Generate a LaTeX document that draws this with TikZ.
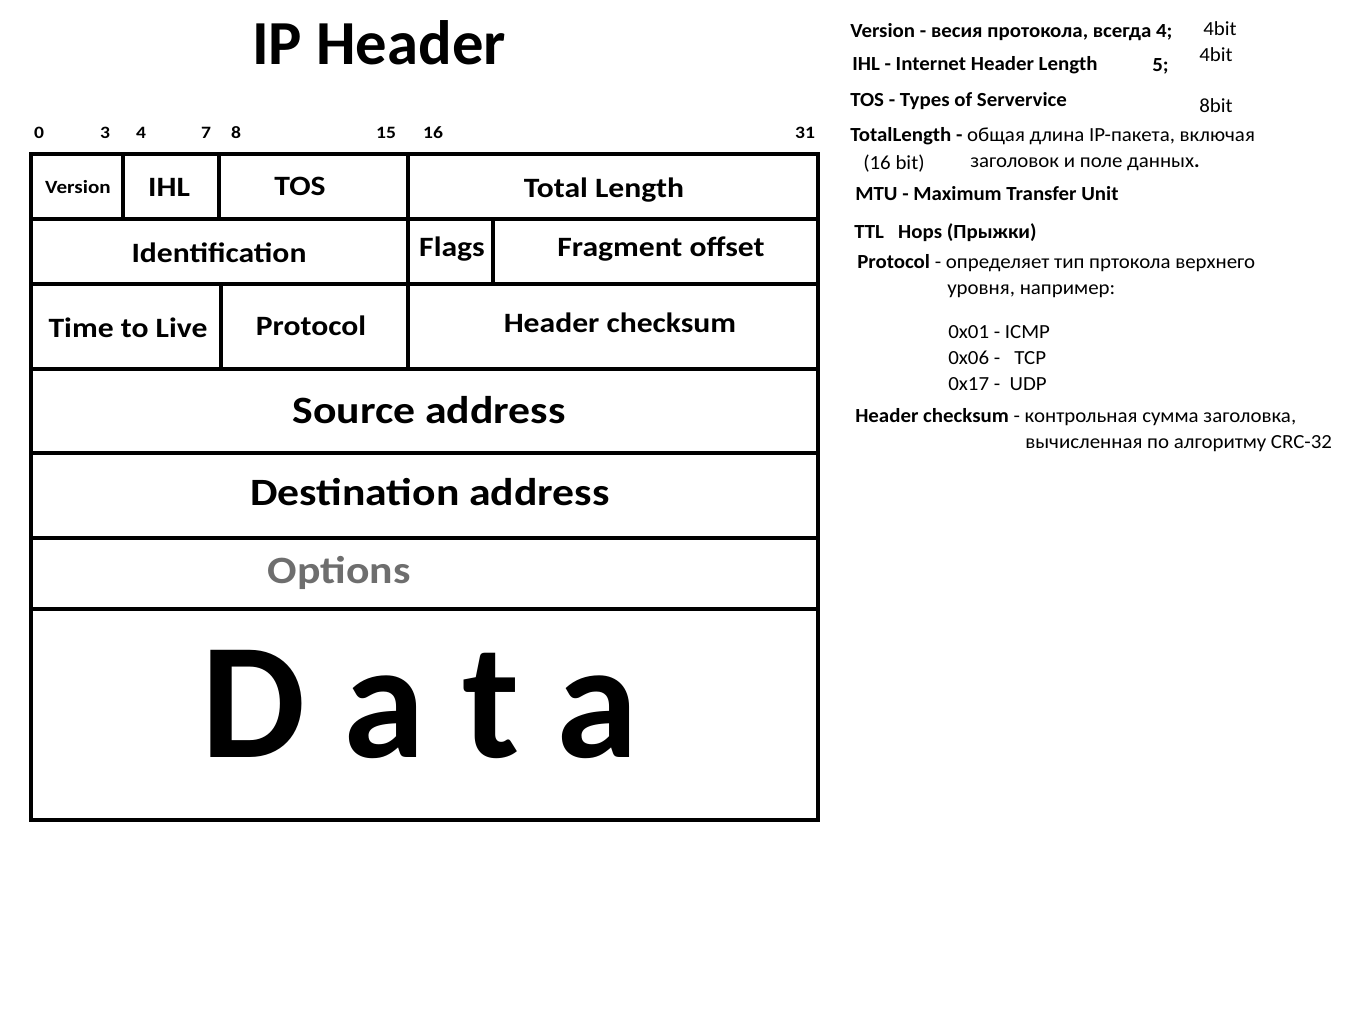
\documentclass[tikz,border=0pt]{standalone}
\usepackage{fontspec}
\setmainfont{Carlito}
\newfontfamily\fA[FakeStretch=1.13]{Carlito}
\newfontfamily\fN[FakeStretch=1.045]{Carlito}
\begin{document}
\begin{tikzpicture}[x=0.75pt,y=-0.75pt,
  cell/.style={line width=3pt},
  lab/.style={inner sep=0pt,anchor=base,font=\fA\bfseries\fontsize{21}{25}\selectfont},
  big/.style={inner sep=0pt,anchor=base,font=\fA\bfseries\fontsize{29}{34}\selectfont},
  bitn/.style={inner sep=0pt,anchor=base,font=\fA\bfseries\fontsize{13}{16}\selectfont},
  note/.style={inner sep=0pt,anchor=base west,font=\fN\fontsize{15}{18}\selectfont}]
\useasboundingbox (0,0) rectangle (1350,1034);
\fill[white] (0,0) rectangle (1350,1034);
% title
\node[inner sep=0pt,anchor=base] (title) at (379,65) {\bfseries\fontsize{47}{56}\selectfont IP Header};
% bit numbers
\node[bitn] (b0) at (39,139) {0};
\node[bitn] (b3) at (105,139) {3};
\node[bitn] (b4) at (141,139) {4};
\node[bitn] (b7) at (206,139) {7};
\node[bitn] (b8) at (236,139) {8};
\node[bitn] (b15) at (386,139) {15};
\node[bitn] (b16) at (433,139) {16};
\node[bitn] (b31) at (805,139) {31};
% table grid
\draw[cell] (31,154) rectangle (818,820);
\foreach \yy in {219,284,369,453,538,609} \draw[cell] (31,\yy) -- (818,\yy);
\draw[cell] (123,154) -- (123,219);
\draw[cell] (219,154) -- (219,219);
\draw[cell] (408,154) -- (408,284);
\draw[cell] (493,219) -- (493,284);
\draw[cell] (221,284) -- (221,369);
\draw[cell] (408,284) -- (408,369);
% labels
\node[inner sep=0pt,anchor=base,font=\fA\bfseries\fontsize{14}{17}\selectfont] (ver) at (78,194) {Version};
\node[lab] (ihl) at (169,197) {IHL};
\node[lab] (tos) at (300,196) {TOS};
\node[lab] (tl) at (604,198) {Total Length};
\node[lab] (ident) at (219,263) {Identification};
\node[lab] (flags) at (452,257) {Flags};
\node[lab] (frag) at (661,257) {Fragment offset};
\node[lab] (ttl) at (128,338) {Time to Live};
\node[lab] (proto) at (311,335) {Protocol};
\node[lab] (hcs) at (620,333) {Header checksum};
\node[big] (src) at (429,423) {Source address};
\node[big] (dst) at (430,505) {Destination address};
\node[big,text=black!57] (opt) at (339,583) {Options};
\node[inner sep=0pt,anchor=base,font=\bfseries\fontsize{124}{140}\selectfont] (data) at (420,757) {D a t a};
% notes
\node[note] (n1) at (850,38) {\bfseries Version - весия протокола, всегда 4;};
\node[note] (n1b) at (1203,36) {4bit};
\node[note] (n2) at (852,71) {\bfseries IHL - Internet Header Length};
\node[note] (n2a) at (1152,72) {\bfseries 5;};
\node[note] (n2b) at (1199,62) {4bit};
\node[note] (n3) at (850,107) {\bfseries TOS - Types of Serverviсe};
\node[note] (n3b) at (1199,113) {8bit};
\node[note] (n4) at (850,142) {\textbf{TotalLength -} общая длина IP-пакета, включая};
\node[note] (n4a) at (863,170) {(16 bit)};
\node[note] (n4b) at (970,168) {заголовок и поле данных\textbf{.}};
\node[note] (n5) at (855,201) {\bfseries MTU - Maximum Transfer Unit};
\node[note] (n6) at (854,239) {\bfseries TTL\ \ \ Hops (Прыжки)};
\node[note] (n7) at (857,269) {\textbf{Protocol} - определяет тип пртокола верхнего};
\node[note] (n7a) at (947,295) {уровня, например:};
\node[note] (p1) at (948,339) {0x01 - ICMP};
\node[note] (p2) at (948,365) {0x06 -\ \ \ TCP};
\node[note] (p3) at (948,391) {0x17 -\ \ UDP};
\node[note] (n8) at (855,422) {\textbf{Header checksum} - контрольная сумма заголовка,};
\node[note] (n8a) at (1025,448) {вычисленная по алгоритму CRC-32};
\end{tikzpicture}
\end{document}
